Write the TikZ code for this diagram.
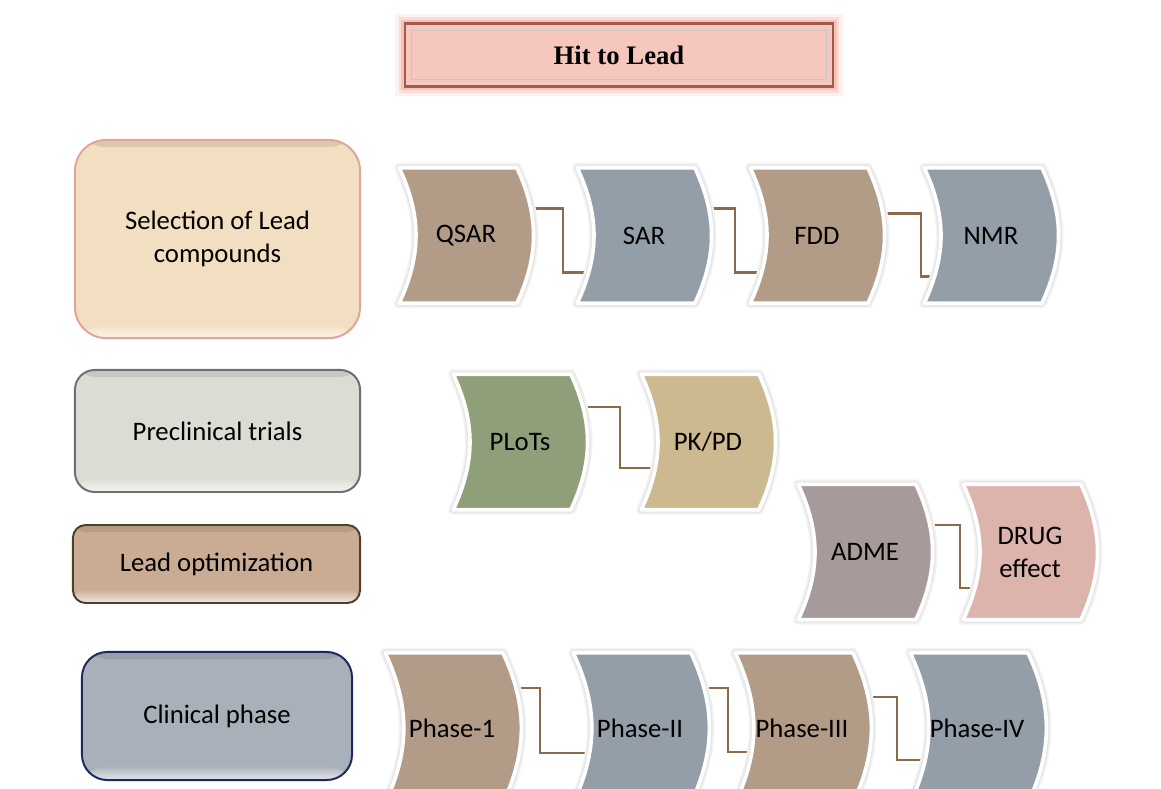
\documentclass[tikz,border=0pt]{standalone}
\usepackage{fontspec}
\setmainfont{Carlito}
\newfontfamily\headfont{Liberation Serif}
\usepackage{tikz}
\usetikzlibrary{calc}
\usetikzlibrary{backgrounds}
\definecolor{tancard}{HTML}{B39C87}
\definecolor{slatecard}{HTML}{939EA9}
\definecolor{plotsgreen}{HTML}{8E9F7A}
\definecolor{pkpdtan}{HTML}{CDB98F}
\definecolor{admemauve}{HTML}{A69B9A}
\definecolor{drugpink}{HTML}{DDB4AC}
\definecolor{selfill}{HTML}{F2DEC1}
\definecolor{selborder}{HTML}{E2A498}
\definecolor{preclfill}{HTML}{DDDCD4}
\definecolor{preclborder}{HTML}{6E6E6E}
\definecolor{optfill}{HTML}{C9AC93}
\definecolor{optborder}{HTML}{4E4129}
\definecolor{clinfill}{HTML}{A8B0BA}
\definecolor{clinborder}{HTML}{1F2660}
\definecolor{titlefill}{HTML}{F5C7BD}
\definecolor{titleborder}{HTML}{A25A4F}
\definecolor{titleglow}{HTML}{F4A89B}
\definecolor{linkbrown}{HTML}{8B6B4B}
\tikzset{ stage/.style 2 args = {rectangle, fill=#1, draw=#2, line width=1.4pt, align=center,
    font=\fontsize{19}{23.5}\selectfont,
    path picture={
      \shade[top color=#1!90!black, bottom color=#1] (path picture bounding box.north west) rectangle ($(path picture bounding box.north east)+(0pt,-5pt)$);
      \shade[top color=#1, bottom color=#1!30!white] ($(path picture bounding box.south west)+(0pt,10pt)$) rectangle (path picture bounding box.south east);}} }
\tikzset{ card/.style = {rectangle, minimum width=3.325cm, minimum height=3.375cm, inner sep=0pt, align=center, font=\fontsize{19}{23.5}\selectfont} }
\tikzset{ bentfill/.style = {fill=#1, draw=white, line width=2.6pt, line join=round,
    preaction={draw=black!5, line width=7pt, line join=round}, preaction={draw=black!10, line width=4.5pt, line join=round}} }
\tikzset{ link/.style = {draw=linkbrown, line width=1.6pt} }

\begin{document}
\begin{tikzpicture}[x=0.025cm, y=0.025cm]
        \useasboundingbox (0,0) rectangle (1161,788);
        % title
        \node[rectangle, fill=titlefill, draw=titleborder, line width=1.5pt, minimum width=10.7cm, minimum height=1.575cm,
              preaction={draw=titleglow, line width=14pt, opacity=.15, rounded corners=6pt},
              preaction={draw=titleglow, line width=9pt, opacity=.3, rounded corners=4pt},
              preaction={draw=titleglow, line width=5pt, opacity=.5},
              font=\headfont\bfseries\fontsize{19}{23}\selectfont] (title) at (619,733) {Hit to Lead};
        \draw[gray!45, line width=0.8pt] ($(title.north west)+(8,-8)$) rectangle ($(title.south east)+(-8,8)$);
        % left column
        \node[stage={selfill}{selborder}, rounded corners=22pt, minimum width=7.125cm, minimum height=4.95cm] (select) at (217.5,549) {Selection of Lead\\compounds};
        \node[stage={preclfill}{preclborder}, rounded corners=14pt, minimum width=7.125cm, minimum height=3.05cm] (precl) at (217.5,357) {Preclinical trials};
        \node[stage={optfill}{optborder}, rounded corners=9pt, minimum width=7.175cm, minimum height=1.95cm] (leadopt) at (216.5,224) {Lead optimization};
        \node[stage={clinfill}{clinborder}, rounded corners=18pt, minimum width=6.75cm, minimum height=3.2cm] (clinical) at (217,72) {Clinical phase};
        % cards
        \node[card] (qsar) at (466,552.5) {QSAR};
        \node[card] (sar) at (644,552.5) {SAR};
        \node[card] (fdd) at (817,552.5) {FDD};
        \node[card] (nmr) at (991,552.5) {NMR};
        \node[card] (plots) at (520,346) {PLoTs};
        \node[card] (pkpd) at (708,346) {PK/PD};
        \node[card] (adme) at (865,236) {ADME};
        \node[card] (drug) at (1030,236) {DRUG\\effect};
        \node[card, minimum height=3.75cm] (phase1) at (452,60) {Phase-1};
        \node[card, minimum height=3.75cm] (phase2) at (640,60) {Phase-II};
        \node[card, minimum height=3.75cm] (phase3) at (802,60) {Phase-III};
        \node[card, minimum height=3.75cm] (phase4) at (977,60) {Phase-IV};
        \begin{scope}[on background layer]
        \draw[link] ($(qsar.east)+(-12,27)$) -| ($(sar.west)+(-14,-37)$) -- ($(sar.west)+(20,-37)$);
        \draw[link] ($(sar.east)+(-12,27)$) -| ($(fdd.west)+(-15,-37)$) -- ($(fdd.west)+(20,-37)$);
        \draw[link] ($(fdd.east)+(-12,22)$) -| ($(nmr.west)+(-3,-41)$) -- ($(nmr.west)+(20,-41)$);
        \draw[link] ($(plots.east)+(-12,35)$) -| ($(pkpd.west)+(-21,-26)$) -- ($(pkpd.west)+(20,-26)$);
        \draw[link] ($(adme.east)+(-12,27)$) -| ($(drug.west)+(-3,-36)$) -- ($(drug.west)+(20,-36)$);
        \draw[link] ($(phase1.east)+(-12,40)$) -| ($(phase2.west)+(-33,-25)$) -- ($(phase2.west)+(20,-25)$);
        \draw[link] ($(phase2.east)+(-12,40)$) -| ($(phase3.west)+(-7,-24)$) -- ($(phase3.west)+(20,-24)$);
        \draw[link] ($(phase3.east)+(-12,31)$) -| ($(phase4.west)+(-13,-32)$) -- ($(phase4.west)+(20,-32)$);
        \foreach \n/\c in {qsar/tancard, sar/slatecard, fdd/tancard, nmr/slatecard, plots/plotsgreen, pkpd/pkpdtan,
                           adme/admemauve, drug/drugpink, phase1/tancard, phase2/slatecard, phase3/tancard, phase4/slatecard}
            \path[bentfill=\c] (\n.north west) -- ($(\n.north east)+(-16,0)$) to[bend left=25] ($(\n.south east)+(-16,0)$)
                -- (\n.south west) to[bend right=25] cycle;
        \end{scope}
    \end{tikzpicture}
\end{document}
